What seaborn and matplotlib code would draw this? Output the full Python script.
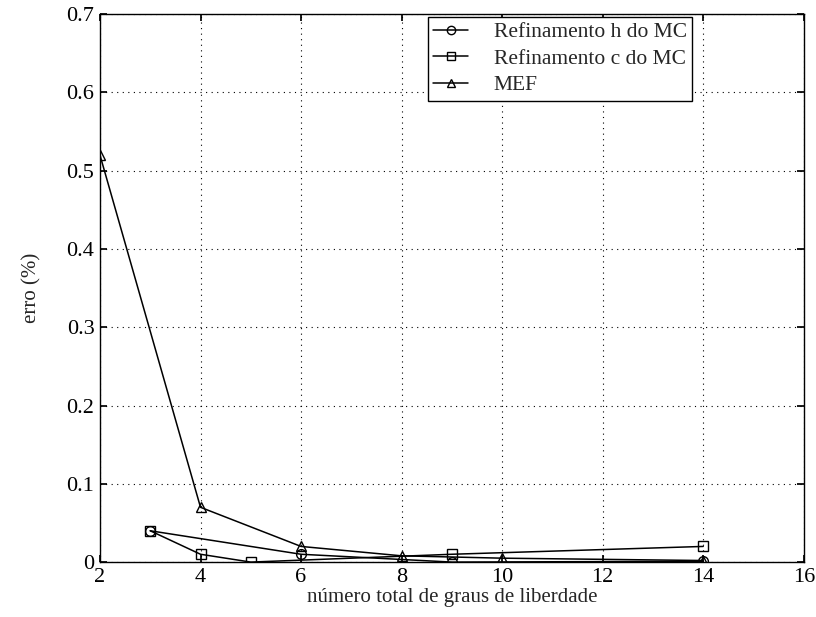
import matplotlib
matplotlib.use("Agg")
import matplotlib.pyplot as plt
import seaborn as sns
import pandas as pd

h_x = [3, 6, 9, 14]
h_y = [0.04, 0.01, 0.0, 0.001]
c_x = [3, 4, 5, 9, 14]
c_y = [0.04, 0.01, 0.0, 0.01, 0.02]
mef_x = [2, 4, 6, 8, 10, 14]
mef_y = [0.52, 0.07, 0.02, 0.008, 0.005, 0.002]
series_names = ["Refinamento h do MC", "Refinamento c do MC", "MEF"]

xticks = [2, 4, 6, 8, 10, 12, 14, 16]
yticks = [0, 0.1, 0.2, 0.3, 0.4, 0.5, 0.6, 0.7]
ytick_labels = ["0", "0.1", "0.2", "0.3", "0.4", "0.5", "0.6", "0.7"]

rows = []
for name, xs, ys in zip(series_names, [h_x, c_x, mef_x], [h_y, c_y, mef_y]):
    for x, y in zip(xs, ys):
        rows.append({"x": x, "y": y, "serie": name})
df = pd.DataFrame(rows)

sns.set_theme(style="white")
plt.rcParams["font.family"] = ["Liberation Serif", "DejaVu Serif"]

fig = plt.figure(figsize=(8.16, 6.17), dpi=100)
ax = fig.add_axes([0.1225, 0.089, 0.8625, 0.888])

sns.lineplot(data=df, x="x", y="y", hue="serie", style="serie",
             hue_order=series_names, style_order=series_names,
             palette=["black"] * 3, markers={series_names[0]: "o", series_names[1]: "s", series_names[2]: "^"},
             dashes=False, markersize=7, markerfacecolor="none", markeredgecolor="black",
             markeredgewidth=1.0, linewidth=1.1, sort=False, estimator=None, ax=ax)

for line in ax.lines:
    line.set_markerfacecolor("none")
    line.set_markeredgecolor("black")

ax.set_xlim(2, 16)
ax.set_ylim(0, 0.7)
ax.set_xticks(xticks)
ax.set_xticklabels([str(t) for t in xticks])
ax.set_yticks(yticks)
ax.set_yticklabels(ytick_labels)
ax.grid(True, color="black", linestyle=(0, (1, 4)), linewidth=0.8)
for s in ax.spines.values():
    s.set_visible(True)
    s.set_color("black")
    s.set_linewidth(1.0)
ax.tick_params(direction="in", length=5, labelsize=16, colors="black", top=True, right=True,
               bottom=True, left=True, pad=4)
ax.set_xlabel("número total de graus de liberdade", fontsize=15, labelpad=1)
ax.set_ylabel("erro (%)", fontsize=15, labelpad=18)

leg = ax.legend(loc="upper left", bbox_to_anchor=(0.466, 0.995), borderaxespad=0, fontsize=15.5,
                frameon=True, fancybox=False, edgecolor="black", framealpha=1, handlelength=1.6,
                borderpad=0.25, labelspacing=0.3, handletextpad=1.2)
leg.get_frame().set_linewidth(1.0)
for h in leg.legend_handles:
    h.set_markersize(6)
    h.set_markerfacecolor("none")
    h.set_markeredgecolor("black")

fig.savefig("out.png", dpi=100)
